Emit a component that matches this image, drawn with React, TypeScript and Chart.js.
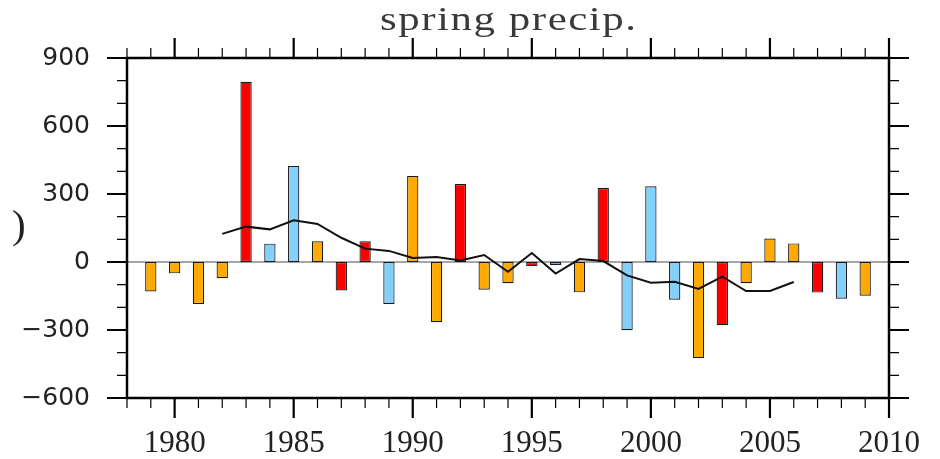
import React, { useEffect, useRef } from 'react';
import { Chart, registerables } from 'chart.js';

Chart.register(...registerables);

// ---- data ----
const years = [
  1979, 1980, 1981, 1982, 1983, 1984, 1985, 1986, 1987, 1988,
  1989, 1990, 1991, 1992, 1993, 1994, 1995, 1996, 1997, 1998,
  1999, 2000, 2001, 2002, 2003, 2004, 2005, 2006, 2007, 2008, 2009,
];
const precipAnomaly = [
  -130, -50, -185, -72, 795, 81, 424, 91, -126, 91,
  -185, 379, -266, 344, -122, -94, -18, -13, -134, 326,
  -301, 334, -166, -424, -279, -94, 104, 82, -135, -162, -149,
];
// r = red, o = orange, b = light blue
const barClass = [
  'o', 'o', 'o', 'o', 'r', 'b', 'b', 'o', 'r', 'r',
  'b', 'o', 'o', 'r', 'o', 'o', 'r', 'b', 'o', 'r',
  'b', 'b', 'b', 'o', 'r', 'o', 'o', 'o', 'r', 'b', 'o',
];
const meanYears = [
  1982, 1983, 1984, 1985, 1986, 1987, 1988, 1989, 1990, 1991,
  1992, 1993, 1994, 1995, 1996, 1997, 1998, 1999, 2000, 2001,
  2002, 2003, 2004, 2005, 2006,
];
const runningMean = [
  124, 156, 144, 184, 168, 107, 59, 49, 18, 22,
  7, 31, -43, 40, -51, 13, 4, -59, -91, -87,
  -119, -65, -128, -128, -88,
];
const xTicks = [1980, 1985, 1990, 1995, 2000, 2005, 2010];
const yTicks = [-600, -300, 0, 300, 600, 900];
const titleText = 'spring precip.';
const yAxisText = ')';

const X_MIN = 1978;
const X_MAX = 2010;
const Y_MIN = -600;
const Y_MAX = 900;
const X_MINOR_STEP = 1;
const Y_MINOR_STEP = 100;

const classColor: Record<string, string> = {
  r: '#FF0000',
  o: '#FFAA00',
  b: '#84D0FC',
};

const framePlugin = {
  id: 'framePlugin',
  beforeDatasetsDraw(chart: any) {
    const { ctx, chartArea, scales } = chart;
    const y0 = scales.y.getPixelForValue(0);
    ctx.save();
    ctx.strokeStyle = '#888888';
    ctx.lineWidth = 1.5;
    ctx.beginPath();
    ctx.moveTo(chartArea.left, y0);
    ctx.lineTo(chartArea.right, y0);
    ctx.stroke();
    ctx.restore();
  },
  afterDraw(chart: any) {
    const { ctx, chartArea, scales } = chart;
    const { left, right, top, bottom } = chartArea;
    const xs = scales.x;
    const ys = scales.y;
    ctx.save();
    ctx.strokeStyle = '#000';
    ctx.lineCap = 'butt';
    // minor ticks
    ctx.lineWidth = 1.2;
    ctx.beginPath();
    for (let v = X_MIN; v <= X_MAX + 1e-9; v += X_MINOR_STEP) {
      if (xTicks.includes(v)) continue;
      const px = xs.getPixelForValue(v);
      ctx.moveTo(px, bottom);
      ctx.lineTo(px, bottom + 10);
      ctx.moveTo(px, top);
      ctx.lineTo(px, top - 10);
    }
    for (let v = Y_MIN; v <= Y_MAX + 1e-9; v += Y_MINOR_STEP) {
      if (yTicks.includes(v)) continue;
      const py = ys.getPixelForValue(v);
      ctx.moveTo(left, py);
      ctx.lineTo(left - 10, py);
      ctx.moveTo(right, py);
      ctx.lineTo(right + 10, py);
    }
    ctx.stroke();
    // major ticks
    ctx.lineWidth = 2.2;
    ctx.beginPath();
    xTicks.forEach((v) => {
      const px = xs.getPixelForValue(v);
      ctx.moveTo(px, bottom);
      ctx.lineTo(px, bottom + 20);
      ctx.moveTo(px, top);
      ctx.lineTo(px, top - 20);
    });
    yTicks.forEach((v) => {
      const py = ys.getPixelForValue(v);
      ctx.moveTo(left, py);
      ctx.lineTo(left - 20, py);
      ctx.moveTo(right, py);
      ctx.lineTo(right + 20, py);
    });
    ctx.stroke();
    // frame
    ctx.lineWidth = 2.5;
    ctx.strokeRect(left, top, right - left, bottom - top);

    // title (horizontally stretched serif to mimic the original font)
    const sx = 1.3;
    const spacing = 1.2;
    ctx.save();
    ctx.fillStyle = '#3a3a3a';
    ctx.font = '33px "Liberation Serif"';
    (ctx as any).letterSpacing = spacing + 'px';
    ctx.textAlign = 'center';
    ctx.textBaseline = 'alphabetic';
    ctx.translate((left + right) / 2 + (spacing * sx) / 2, 30);
    ctx.scale(sx, 1);
    ctx.fillText(titleText, 0, 0);
    ctx.restore();

    // y-axis stray label
    ctx.fillStyle = '#222';
    ctx.font = '41px "Liberation Serif"';
    ctx.textAlign = 'left';
    ctx.textBaseline = 'alphabetic';
    ctx.fillText(yAxisText, 12, 238);
    ctx.restore();
  },
};

export default function App() {
  const canvasRef = useRef<HTMLCanvasElement | null>(null);

  useEffect(() => {
    const canvas = canvasRef.current;
    if (!canvas) return;
    const chart = new Chart(canvas, {
      type: 'bar',
      data: {
        datasets: [
          {
            type: 'line',
            label: 'running mean',
            data: meanYears.map((yr, i) => ({ x: yr, y: runningMean[i] })),
            borderColor: '#111',
            borderWidth: 2,
            pointRadius: 0,
            tension: 0,
            fill: false,
            order: 0,
          } as any,
          {
            type: 'bar',
            label: 'spring precip.',
            data: years.map((yr, i) => ({ x: yr, y: precipAnomaly[i] })),
            backgroundColor: barClass.map((c) => classColor[c]),
            borderColor: '#1a1a1a',
            borderWidth: 1.2,
            borderSkipped: false,
            barPercentage: 0.5,
            categoryPercentage: 0.95,
            order: 1,
          } as any,
        ],
      },
      options: {
        responsive: false,
        animation: false,
        events: [],
        layout: { padding: { left: 0, right: 51, top: 58, bottom: 0 } },
        plugins: {
          legend: { display: false },
          title: { display: false },
          tooltip: { enabled: false },
        },
        scales: {
          x: {
            type: 'linear',
            min: X_MIN,
            max: X_MAX,
            offset: false,
            grid: { display: false, drawTicks: false },
            border: { display: false },
            afterBuildTicks: (s: any) => {
              s.ticks = xTicks.map((v) => ({ value: v }));
            },
            afterFit: (s: any) => {
              s.height = 61;
              s.paddingLeft = 0;
              s.paddingRight = 0;
            },
            ticks: {
              autoSkip: false,
              maxRotation: 0,
              padding: 27,
              color: '#222',
              font: { family: 'Liberation Serif', size: 31 },
              callback: (v: any) => String(v),
            },
          },
          y: {
            type: 'linear',
            min: Y_MIN,
            max: Y_MAX,
            grid: { display: false, drawTicks: false },
            border: { display: false },
            afterBuildTicks: (s: any) => {
              s.ticks = yTicks.map((v) => ({ value: v }));
            },
            afterFit: (s: any) => {
              s.width = 127;
              s.paddingTop = 0;
              s.paddingBottom = 0;
            },
            ticks: {
              padding: 37,
              color: '#222',
              font: { family: 'DejaVu Sans', size: 25 },
              callback: (v: any) => (v < 0 ? '\u2212' + Math.abs(v) : String(v)),
            },
          },
        },
      } as any,
      plugins: [framePlugin],
    });
    return () => chart.destroy();
  }, []);

  return (
    <div style={{ position: 'fixed', left: 0, top: 0, width: 940, height: 459, background: '#fff' }}>
      <canvas ref={canvasRef} width={940} height={459} style={{ display: 'block' }} />
    </div>
  );
}
